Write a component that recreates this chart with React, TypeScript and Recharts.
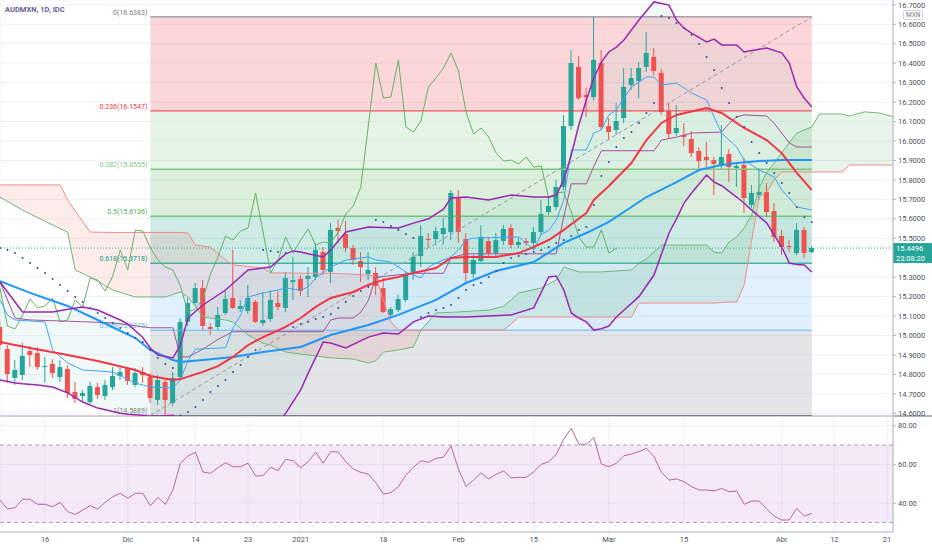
import { Area, Bar, CartesianGrid, ComposedChart, Line, ReferenceArea, ReferenceLine, XAxis, YAxis } from "recharts"

// daily candles, index 0 = first visible bar (6 Nov 2020), last = 7 Apr 2021
const opens = [
  15.044, 14.931, 14.782, 14.797, 14.92, 14.91, 14.838, 14.854, 14.787, 14.828,
  14.71, 14.689, 14.658, 14.735, 14.689, 14.735, 14.792, 14.828, 14.746, 14.813,
  14.787, 14.669, 14.761, 14.653, 14.787, 15.07, 15.167, 15.244, 15.044, 15.044,
  15.116, 15.193, 15.136, 15.126, 15.173, 15.064, 15.085, 15.167, 15.142, 15.275,
  15.291, 15.291, 15.301, 15.429, 15.327, 15.553, 15.522, 15.45, 15.383, 15.316,
  15.322, 15.244, 15.106, 15.131, 15.183, 15.322, 15.409, 15.496, 15.496, 15.522,
  15.532, 15.712, 15.496, 15.316, 15.383, 15.486, 15.424, 15.486, 15.553, 15.465,
  15.486, 15.476, 15.532, 15.635, 15.661, 15.764, 16.077, 16.381, 16.237, 16.226,
  16.401, 16.077, 16.057, 16.118, 16.288, 16.309, 16.381, 16.432, 16.35, 16.154,
  16.041, 16.031, 16.01, 15.949, 15.918, 15.902, 15.872, 15.933, 15.861, 15.877,
  15.671, 15.723, 15.738, 15.64, 15.512, 15.46, 15.424, 15.543, 15.429,
]
const highs = [
  15.07, 14.951, 14.874, 14.962, 14.946, 14.941, 14.89, 14.879, 14.874, 14.848,
  14.761, 14.72, 14.761, 14.756, 14.771, 14.838, 14.833, 14.838, 14.833, 14.838,
  14.807, 14.797, 14.782, 14.813, 15.09, 15.193, 15.27, 15.285, 15.064, 15.147,
  15.234, 15.44, 15.183, 15.26, 15.183, 15.224, 15.234, 15.234, 15.327, 15.404,
  15.311, 15.352, 15.476, 15.455, 15.579, 15.594, 15.589, 15.465, 15.429, 15.429,
  15.352, 15.296, 15.147, 15.209, 15.327, 15.429, 15.568, 15.527, 15.558, 15.604,
  15.748, 15.748, 15.527, 15.414, 15.568, 15.507, 15.527, 15.568, 15.573, 15.501,
  15.501, 15.558, 15.697, 15.707, 15.8, 16.134, 16.468, 16.437, 16.273, 16.638,
  16.468, 16.118, 16.196, 16.375, 16.375, 16.406, 16.56, 16.478, 16.37, 16.196,
  16.185, 16.093, 16.051, 15.969, 15.995, 15.918, 16.082, 15.959, 15.892, 15.913,
  15.774, 15.861, 15.784, 15.681, 15.543, 15.491, 15.579, 15.558, 15.46,
]
const lows = [
  14.926, 14.756, 14.746, 14.771, 14.838, 14.823, 14.756, 14.782, 14.761, 14.679,
  14.653, 14.658, 14.648, 14.674, 14.669, 14.72, 14.771, 14.746, 14.735, 14.756,
  14.653, 14.643, 14.589, 14.638, 14.771, 15.049, 15.152, 15.028, 15.003, 15.028,
  15.106, 15.137, 15.121, 15.111, 15.064, 15.049, 15.07, 15.131, 15.121, 15.183,
  15.203, 15.198, 15.286, 15.311, 15.27, 15.476, 15.429, 15.363, 15.275, 15.286,
  15.209, 15.116, 15.095, 15.121, 15.173, 15.286, 15.352, 15.455, 15.465, 15.465,
  15.491, 15.476, 15.27, 15.296, 15.378, 15.409, 15.404, 15.465, 15.45, 15.45,
  15.46, 15.44, 15.517, 15.62, 15.645, 15.748, 16.057, 16.211, 16.124, 16.211,
  16.057, 16.005, 16.031, 16.093, 16.262, 16.221, 16.355, 16.339, 16.134, 16.015,
  16.026, 15.974, 15.918, 15.851, 15.866, 15.722, 15.851, 15.789, 15.764, 15.63,
  15.656, 15.697, 15.609, 15.481, 15.414, 15.429, 15.414, 15.399, 15.424,
]
const closes = [
  14.951, 14.802, 14.823, 14.895, 14.9, 14.838, 14.843, 14.807, 14.838, 14.705,
  14.674, 14.705, 14.741, 14.694, 14.746, 14.792, 14.813, 14.766, 14.807, 14.797,
  14.679, 14.771, 14.669, 14.782, 15.07, 15.167, 15.244, 15.049, 15.034, 15.106,
  15.188, 15.142, 15.152, 15.193, 15.07, 15.08, 15.183, 15.147, 15.296, 15.285,
  15.229, 15.306, 15.44, 15.337, 15.543, 15.537, 15.45, 15.388, 15.352, 15.337,
  15.255, 15.121, 15.136, 15.188, 15.316, 15.404, 15.512, 15.491, 15.537, 15.553,
  15.733, 15.532, 15.321, 15.388, 15.507, 15.424, 15.491, 15.548, 15.465, 15.481,
  15.476, 15.532, 15.625, 15.666, 15.764, 16.077, 16.401, 16.221, 16.226, 16.417,
  16.072, 16.046, 16.103, 16.278, 16.324, 16.375, 16.453, 16.36, 16.149, 16.036,
  16.067, 16.021, 15.938, 15.897, 15.902, 15.882, 15.918, 15.866, 15.872, 15.707,
  15.733, 15.738, 15.635, 15.507, 15.455, 15.455, 15.543, 15.424, 15.4496,
]

// parabolic SAR, one dot per bar
const sarDots = [
  15.45, 15.44, 15.424, 15.399, 15.373, 15.347, 15.322, 15.291, 15.26, 15.229,
  15.198, 15.172, 15.142, 15.116, 15.09, 15.064, 15.039, 15.013, 14.987, 14.967,
  14.926, 14.885, 14.854, 14.833, 14.589, 14.607, 14.633, 14.669, 14.71, 14.741,
  14.771, 14.813, 14.849, 14.89, 14.926, 15.44, 15.435, 15.429, 15.424, 15.044,
  15.059, 15.07, 15.085, 15.095, 15.111, 15.142, 15.172, 15.203, 15.229, 15.25,
  15.594, 15.584, 15.563, 15.543, 15.522, 15.501, 15.095, 15.116, 15.131, 15.142,
  15.157, 15.193, 15.234, 15.26, 15.27, 15.301, 15.332, 15.373, 15.399, 15.409,
  15.419, 15.429, 15.44, 15.455, 15.476, 15.491, 15.512, 15.543, 15.558, 15.671,
  15.82, 15.892, 15.969, 16.016, 16.046, 16.093, 16.144, 16.196, 16.643, 16.632,
  16.607, 16.581, 16.545, 16.499, 16.432, 16.365, 16.273, 16.196, 16.124, 16.072,
  15.995, 15.938, 15.887, 15.836, 15.784, 15.733, 15.661, 15.609, 15.584,
]

const rsiValues = [
  41.6, 37.0, 37.6, 42.0, 42.0, 39.4, 39.4, 38.1, 40.4, 35.6,
  34.2, 36.4, 38.7, 37.0, 40.4, 43.3, 45.1, 42.5, 45.1, 45.1,
  38.7, 43.0, 39.4, 46.8, 60.6, 64.3, 66.3, 56.1, 55.4, 58.3,
  60.9, 58.8, 58.8, 60.6, 54.0, 54.2, 58.5, 56.8, 62.6, 61.9,
  58.3, 61.4, 66.3, 60.6, 66.6, 66.4, 61.4, 57.6, 55.9, 55.0,
  50.5, 44.7, 45.4, 48.5, 54.5, 58.5, 61.9, 61.1, 63.1, 63.7,
  69.5, 57.5, 48.7, 51.9, 55.7, 52.5, 54.9, 56.6, 53.1, 53.3,
  53.3, 56.2, 60.0, 61.4, 65.2, 73.0, 78.7, 70.4, 70.4, 73.8,
  60.2, 58.8, 60.6, 64.5, 65.4, 66.6, 68.3, 64.0, 55.9, 51.9,
  52.5, 51.1, 48.5, 46.8, 46.8, 46.3, 47.6, 45.9, 46.3, 39.4,
  41.1, 41.1, 37.0, 33.3, 31.3, 31.3, 37.3, 33.3, 34.7,
]

// indicator lines read at key bars: [bar index, price]
const tenkanPts: [number, number][] = [
  [0, 15.183], [1, 15.106], [2, 15.08], [6, 15.07], [7, 14.926], [9, 14.859], [11, 14.823], [15, 14.812],
  [18, 14.756], [20, 14.735], [23, 14.73], [24, 14.771], [25, 14.87], [26, 14.93], [30, 14.937], [31, 15.04],
  [32, 15.105], [33, 15.198], [35, 15.219], [37, 15.234], [38, 15.244], [40, 15.234], [41, 15.25], [42, 15.296],
  [44, 15.352], [46, 15.388], [49, 15.404], [50, 15.388], [52, 15.378], [54, 15.327], [55, 15.311], [56, 15.296],
  [57, 15.352], [58, 15.373], [60, 15.404], [61, 15.44], [62, 15.491], [63, 15.501], [69, 15.507], [70, 15.476],
  [71, 15.44], [72, 15.52], [73, 15.54], [74, 15.594], [75, 15.697], [76, 15.954], [78, 15.954], [79, 16.041],
  [80, 16.057], [81, 16.134], [82, 16.16], [84, 16.278], [86, 16.329], [87, 16.329], [88, 16.288], [90, 16.298],
  [92, 16.247], [94, 16.211], [95, 16.124], [96, 16.041], [98, 15.969], [99, 15.902], [101, 15.851], [103, 15.815],
  [104, 15.748], [105, 15.707], [106, 15.661], [108, 15.645],
]
const kijunPts: [number, number][] = [
  [0, 15.275], [2, 15.09], [4, 15.08], [8, 15.075], [15, 15.065], [20, 15.04], [23, 15.04], [24, 14.89],
  [25, 14.89], [27, 14.93], [29, 14.98], [31, 15.02], [43, 15.02], [44, 15.08], [45, 15.09], [47, 15.09],
  [48, 15.12], [49, 15.18], [50, 15.3], [55, 15.32], [59, 15.32], [60, 15.4], [61, 15.41], [62, 15.42],
  [74, 15.42], [75, 15.61], [76, 15.78], [78, 15.78], [79, 15.87], [80, 15.95], [87, 15.95], [88, 16.005],
  [90, 16.02], [92, 16.041], [96, 16.046], [97, 16.09], [98, 16.124], [99, 16.134], [102, 16.129], [103, 16.09],
  [104, 16.041], [105, 15.99], [106, 15.969], [108, 15.969],
]
const maPts: [number, number][] = [
  [0, 15.28], [4, 15.219], [9, 15.152], [13, 15.08], [18, 14.987], [20, 14.926], [23, 14.874], [24, 14.864],
  [27, 14.874], [31, 14.89], [35, 14.915], [40, 14.941], [44, 15.003], [49, 15.054], [53, 15.106], [58, 15.183],
  [62, 15.27], [66, 15.332], [71, 15.378], [75, 15.476], [78, 15.527], [81, 15.584], [83, 15.635], [86, 15.712],
  [90, 15.789], [93, 15.851], [96, 15.877], [98, 15.887], [101, 15.897], [104, 15.902], [108, 15.902],
]
const basisPts: [number, number][] = [
  [0, 14.967], [4, 14.936], [9, 14.9], [13, 14.869], [18, 14.823], [20, 14.792], [23, 14.771], [24, 14.776],
  [27, 14.813], [29, 14.843], [31, 14.89], [33, 14.951], [35, 14.992], [38, 15.044], [40, 15.09], [42, 15.147],
  [44, 15.193], [47, 15.224], [49, 15.26], [51, 15.286], [53, 15.301], [55, 15.322], [58, 15.347], [59, 15.373],
  [60, 15.399], [62, 15.404], [66, 15.404], [69, 15.424], [71, 15.455], [73, 15.491], [75, 15.543], [78, 15.63],
  [79, 15.697], [81, 15.769], [84, 15.887], [86, 16.005], [88, 16.093], [90, 16.134], [94, 16.17], [96, 16.144],
  [99, 16.067], [102, 16.005], [104, 15.938], [106, 15.836], [108, 15.748],
]

// bollinger bands
const bbIdx = [
  0, 2, 3, 5, 7, 9, 11, 13, 16, 17, 19, 20, 21, 23, 24, 25, 27, 30, 33, 36,
  38, 39, 40, 41, 43, 44, 46, 49, 51, 53, 55, 57, 59, 60, 62, 65, 68, 71, 73, 74,
  75, 76, 77, 78, 79, 80, 81, 82, 83, 85, 87, 89, 90, 91, 92, 94, 95, 96, 98, 99,
  100, 102, 104, 105, 106, 107, 108,
]
const bbUpper = [
  15.275, 15.172, 15.121, 15.121, 15.121, 15.135, 15.147, 15.131, 15.08, 15.06,
  14.99, 14.936, 14.9, 14.885, 14.95, 15.09, 15.157, 15.234, 15.337, 15.352,
  15.42, 15.435, 15.429, 15.42, 15.404, 15.44, 15.532, 15.558, 15.555, 15.553,
  15.578, 15.6, 15.65, 15.707, 15.712, 15.697, 15.722, 15.712, 15.712, 15.722,
  15.8, 15.928, 16.082, 16.211, 16.324, 16.406, 16.458, 16.483, 16.519, 16.622,
  16.715, 16.699, 16.622, 16.58, 16.555, 16.509, 16.524, 16.494, 16.494, 16.458,
  16.465, 16.478, 16.453, 16.401, 16.278, 16.22, 16.175,
]
const bbLower = [
  14.771, 14.756, 14.752, 14.746, 14.735, 14.705, 14.658, 14.627, 14.6, 14.595,
  14.59, 14.585, 14.585, 14.59, 14.57, 14.53, 14.48, 14.43, 14.42, 14.5,
  14.6, 14.66, 14.72, 14.807, 14.967, 14.962, 14.936, 14.992, 15.013, 15.008,
  15.07, 15.1, 15.095, 15.095, 15.095, 15.1, 15.106, 15.142, 15.301, 15.306,
  15.234, 15.116, 15.09, 15.07, 15.028, 15.035, 15.049, 15.095, 15.13, 15.2,
  15.311, 15.527, 15.6, 15.681, 15.733, 15.825, 15.789, 15.77, 15.712, 15.68,
  15.645, 15.578, 15.455, 15.373, 15.365, 15.363, 15.327,
]

// ichimoku leading spans (already shifted forward)
const spanIdx = [
  0, 3, 7, 8, 9, 10, 12, 15, 18, 22, 24, 25, 26, 27, 28, 30, 31, 33, 35, 36,
  38, 41, 44, 47, 49, 50, 51, 52, 53, 55, 56, 58, 61, 65, 67, 68, 69, 72, 74, 75,
  77, 80, 82, 84, 85, 86, 88, 94, 95, 96, 97, 98, 99, 100, 101, 102, 103, 104, 105, 106,
  108, 109, 112, 113, 115, 117, 119,
]
const spanA = [
  15.712, 15.645, 15.568, 15.55, 15.532, 15.337, 15.301, 15.234, 15.198, 15.198,
  15.224, 15.198, 15.15, 15.095, 15.09, 15.08, 15.07, 15.003, 14.96, 14.951,
  14.915, 14.9, 14.885, 14.879, 14.859, 14.87, 14.915, 14.92, 14.926, 14.941,
  15.028, 15.116, 15.121, 15.131, 15.15, 15.183, 15.219, 15.244, 15.286, 15.352,
  15.327, 15.327, 15.332, 15.337, 15.373, 15.394, 15.465, 15.465, 15.429, 15.424,
  15.481, 15.507, 15.553, 15.62, 15.76, 15.84, 15.887, 15.94, 15.99, 16.041,
  16.072, 16.139, 16.139, 16.128, 16.15, 16.144, 16.124,
]
const spanB = [
  15.774, 15.774, 15.774, 15.774, 15.697, 15.64, 15.532, 15.53, 15.53, 15.53,
  15.53, 15.527, 15.465, 15.46, 15.455, 15.39, 15.363, 15.355, 15.347, 15.322,
  15.322, 15.32, 15.32, 15.315, 15.31, 15.306, 15.183, 15.07, 15.028, 15.028,
  15.028, 15.028, 15.028, 15.028, 15.028, 15.059, 15.095, 15.095, 15.095, 15.095,
  15.095, 15.095, 15.095, 15.095, 15.167, 15.167, 15.167, 15.167, 15.167, 15.17,
  15.172, 15.172, 15.26, 15.49, 15.71, 15.738, 15.8, 15.841, 15.841, 15.841,
  15.841, 15.841, 15.841, 15.877, 15.877, 15.877, 15.877,
]

// fibonacci retracement drawn from the Dec low to the Feb high
const fibLevels = ["0", "0.236", "0.382", "0.5", "0.618", "0.786", "1"]
const fibPrices = [16.6383, 16.1547, 15.8555, 15.6136, 15.3718, 15.0275, 14.5889]
const fibColors = ["#787b86", "#f23645", "#81c784", "#4caf50", "#089981", "#64b5f6", "#787b86"]
const fibFrom = 20
const fibTo = 108

const tickIdx = [6, 17, 26, 33, 40, 51, 61, 71, 81, 91, 104, 111, 118]
const tickLabels = ["16", "Dic", "14", "23", "2021", "18", "Feb", "15", "Mar", "15", "Abr", "12", "21"]
// 15.4 sits under the last-price tag, so it is not printed
const priceTicks = [
  14.6, 14.7, 14.8, 14.9, 15.0, 15.1, 15.2, 15.3, 15.5, 15.6,
  15.7, 15.8, 15.9, 16.0, 16.1, 16.2, 16.3, 16.4, 16.5, 16.6, 16.7,
]

const UP = "#26a69a"
const DOWN = "#ef5350"
const AXIS_TEXT = { fontSize: 7.5, fill: "#50535e" }
const X_DOMAIN: [number, number] = [0, 118.8]

const lookup = (pts: [number, number][]) => {
  const m = new Map(pts)
  return (i: number) => (m.has(i) ? m.get(i)! : null)
}
const tenkanAt = lookup(tenkanPts)
const kijunAt = lookup(kijunPts)
const maAt = lookup(maPts)
const basisAt = lookup(basisPts)

const rows = Array.from({ length: 120 }, (_, i) => {
  const k = bbIdx.indexOf(i)
  const s = spanIdx.indexOf(i)
  const a = s >= 0 ? spanA[s] : null
  const b = s >= 0 ? spanB[s] : null
  return {
    i,
    o: opens[i] ?? null,
    h: highs[i] ?? null,
    l: lows[i] ?? null,
    c: closes[i] ?? null,
    bbUp: k >= 0 ? bbUpper[k] : null,
    bbLow: k >= 0 ? bbLower[k] : null,
    bbFill: k >= 0 ? [bbLower[k], bbUpper[k]] : null,
    spanA: a,
    spanB: b,
    greenCloud: a != null && b != null ? [b, Math.max(a, b)] : null,
    redCloud: a != null && b != null ? [a, Math.max(a, b)] : null,
    // lagging span: the close plotted 26 bars back
    chikou: closes[i + 26] ?? null,
    tenkan: tenkanAt(i),
    kijun: kijunAt(i),
    ma: maAt(i),
    basis: basisAt(i),
    sar: sarDots[i] ?? null,
    rsi: rsiValues[i] ?? null,
  }
})

const Candle = (props: any) => {
  const { x, y, width, height, payload } = props
  if (payload == null || payload.o == null) return null
  const { o, h, l, c } = payload
  const color = c >= o ? UP : DOWN
  const top = Math.min(y, y + height)
  const span = Math.abs(height)
  const k = h - l === 0 ? 0 : span / (h - l)
  const bodyTop = top + (h - Math.max(o, c)) * k
  const bodyH = Math.max(1, Math.abs(o - c) * k)
  const cx = x + width / 2
  return (
    <g>
      <line x1={cx} x2={cx} y1={top} y2={top + span} stroke={color} strokeWidth={1} />
      <rect x={x} y={bodyTop} width={width} height={bodyH} fill={color} />
    </g>
  )
}

const FibLabel = (props: any) => {
  const { viewBox, text, color } = props
  if (!viewBox) return null
  return (
    <text x={viewBox.x - 3} y={viewBox.y - 2} textAnchor="end" fontSize={7} fill={color}>
      {text}
    </text>
  )
}

const PriceTag = (props: any) => {
  const { viewBox } = props
  if (!viewBox) return null
  const x = viewBox.x + viewBox.width
  const y = viewBox.y
  return (
    <g>
      <rect x={x} y={y - 5} width={39} height={20} fill={UP} />
      <text x={x + 3} y={y + 3} fontSize={7.5} fill="#fff">{closes[closes.length - 1].toFixed(4)}</text>
      <text x={x + 3} y={y + 12.5} fontSize={7.5} fill="#fff">23:08:20</text>
    </g>
  )
}

const line = (key: string, stroke: string, width = 1, gaps = true) => (
  <Line
    dataKey={key}
    stroke={stroke}
    strokeWidth={width}
    dot={false}
    activeDot={false}
    connectNulls={gaps}
    isAnimationActive={false}
  />
)

export default function App() {
  return (
    <div
      style={{
        position: "absolute",
        left: 0,
        top: 0,
        width: 932,
        height: 550,
        background: "#fff",
        fontFamily: "Roboto, 'DejaVu Sans', sans-serif",
        overflow: "hidden",
      }}
    >
      <div style={{ position: "absolute", left: 0, top: 416 }}>
        <ComposedChart width={932} height={134} data={rows} margin={{ top: 0, right: 0, bottom: 0, left: 0 }}>
          <CartesianGrid stroke="#eef1f6" />
          <XAxis
            dataKey="i"
            type="number"
            domain={X_DOMAIN}
            allowDataOverflow
            ticks={tickIdx}
            interval={0}
            tickFormatter={(v: number) => tickLabels[tickIdx.indexOf(v)] ?? ""}
            height={18}
            tickLine={false}
            tickSize={3}
            tick={AXIS_TEXT}
            axisLine={{ stroke: "#b2b5be" }}
          />
          <YAxis
            orientation="right"
            domain={[25.1, 85]}
            allowDataOverflow
            ticks={[40, 60, 80]}
            tickFormatter={(v: number) => v.toFixed(2)}
            width={39}
            tick={AXIS_TEXT}
            tickSize={3}
            axisLine={{ stroke: "#b2b5be" }}
            tickLine={{ stroke: "#b2b5be" }}
          />
          <ReferenceArea y1={30} y2={70} fill="#9c27b0" fillOpacity={0.1} stroke="none" />
          <ReferenceLine y={70} stroke="#a3a6af" strokeDasharray="4 3" />
          <ReferenceLine y={30} stroke="#a3a6af" strokeDasharray="4 3" />
          {line("rsi", "#b5679e", 1, false)}
        </ComposedChart>
      </div>

      <div style={{ position: "absolute", left: 0, top: 415, width: 932, height: 1.5, background: "#b2b5be" }} />

      {/* 6px of spare height below the plot so the lowest price label is not clipped */}
      <div style={{ position: "absolute", left: 0, top: 0 }}>
        <ComposedChart width={932} height={422} data={rows} margin={{ top: 0, right: 0, bottom: 6, left: 0 }}>
          <CartesianGrid stroke="#eef1f6" />
          <XAxis dataKey="i" type="number" domain={X_DOMAIN} allowDataOverflow ticks={tickIdx} tick={false} tickLine={false} axisLine={false} height={0} />
          <YAxis
            orientation="right"
            domain={[14.5863, 16.725]}
            allowDataOverflow
            ticks={priceTicks}
            interval={0}
            tickFormatter={(v: number) => v.toFixed(4)}
            width={39}
            tick={AXIS_TEXT}
            tickSize={3}
            axisLine={{ stroke: "#b2b5be" }}
            tickLine={{ stroke: "#b2b5be" }}
          />

          {fibPrices.slice(0, -1).map((p, k) => (
            <ReferenceArea
              key={`fz-${k}`}
              x1={fibFrom}
              x2={fibTo}
              y1={p}
              y2={fibPrices[k + 1]}
              fill={fibColors[k + 1]}
              fillOpacity={0.2}
              stroke="none"
            />
          ))}

          <Area dataKey="redCloud" stroke="none" fill="#f44336" fillOpacity={0.1} activeDot={false} connectNulls isAnimationActive={false} />
          <Area dataKey="greenCloud" stroke="none" fill="#4caf50" fillOpacity={0.12} activeDot={false} connectNulls isAnimationActive={false} />
          <Area dataKey="bbFill" stroke="none" fill="#4db6ac" fillOpacity={0.08} activeDot={false} connectNulls isAnimationActive={false} />

          {fibPrices.map((p, k) => (
            <ReferenceLine
              key={`fl-${k}`}
              segment={[{ x: fibFrom, y: p }, { x: fibTo, y: p }]}
              stroke={fibColors[k]}
              strokeWidth={k === 2 ? 1.5 : 1}
              label={<FibLabel text={`${fibLevels[k]}(${p.toFixed(4)})`} color={fibColors[k]} />}
            />
          ))}
          <ReferenceLine
            segment={[{ x: fibFrom, y: fibPrices[6] }, { x: fibTo, y: fibPrices[0] }]}
            stroke="#9598a1"
            strokeDasharray="4 3"
          />

          {line("spanB", "#f28b8b")}
          {line("spanA", "#72b876")}
          {line("chikou", "#66b066", 1, false)}
          {line("kijun", "#a8509a")}
          {line("tenkan", "#42a5f5")}
          {line("ma", "#2196f3", 2)}
          {line("basis", "#f23645", 2)}
          {line("bbUp", "#9c27b0", 1.5)}
          {line("bbLow", "#9c27b0", 1.5)}

          <Bar
            dataKey={(d: any) => (d.o == null ? null : [d.l, d.h])}
            barSize={5}
            shape={Candle}
            activeBar={false}
            isAnimationActive={false}
          />

          <Line
            dataKey="sar"
            stroke="none"
            dot={{ r: 1, fill: "#33508f", stroke: "none" }}
            activeDot={false}
            isAnimationActive={false}
          />

          <ReferenceLine y={closes[closes.length - 1]} stroke={UP} strokeDasharray="1 2" label={<PriceTag />} />
        </ComposedChart>
      </div>

      <div style={{ position: "absolute", left: 5, top: 5, fontSize: 7.5, fontWeight: 700, color: "#6a5d94" }}>
        AUDMXN, 1D, IDC
      </div>
      <div
        style={{
          position: "absolute",
          left: 903,
          top: 10,
          padding: "0 2px",
          fontSize: 6.5,
          lineHeight: "8px",
          color: "#787b86",
          background: "#fff",
          border: "1px solid #d1d4dc",
          borderRadius: 2,
        }}
      >
        MXN
      </div>
    </div>
  )
}
